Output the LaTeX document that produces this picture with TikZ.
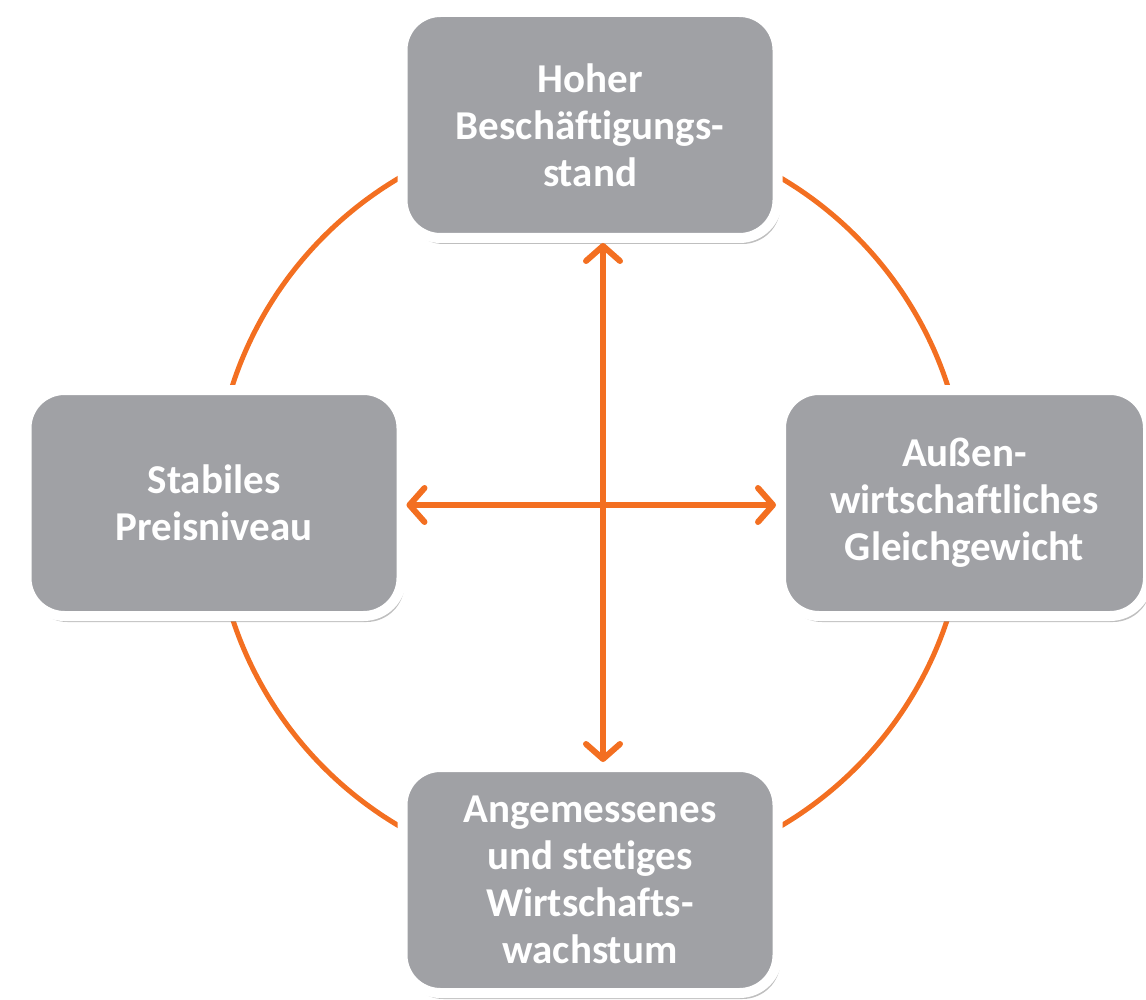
\documentclass[tikz,border=0pt]{standalone}
\usepackage{fontspec}
\setmainfont{Carlito}[Ligatures=NoCommon]
\usepackage{tikz}
\usetikzlibrary{arrows.meta,shadows}
\definecolor{zielgrau}{HTML}{A0A1A5}
\definecolor{zielorange}{HTML}{F36F21}
\tikzset{
  ziel/.style={rectangle, rounded corners=38pt, fill=zielgrau, draw=white, line width=10pt,
    minimum width=375pt, minimum height=226pt, align=center, text=white,
    font=\fontsize{41}{47}\selectfont\bfseries,
    drop shadow={shadow xshift=3pt, shadow yshift=-6pt, opacity=0.5}},
  bezug/.style={zielorange, line width=6pt,
    {Straight Barb[length=15pt,width=34pt,round]}-{Straight Barb[length=15pt,width=34pt,round]}}
}

\begin{document}
\begin{tikzpicture}[x=1pt,y=-1pt]
\useasboundingbox (0,0) rectangle (1146,1000);
% Ring
\draw[zielorange, line width=5pt] (590,502) circle[radius=376pt];
% Ziele
\node[ziel] (oben) at (590,125) {Hoher\\Beschäftigungs-\\stand};
\node[ziel] (links) at (214,503) {Stabiles\\Preisniveau};
\node[ziel, minimum width=367pt] (rechts) at (964.5,503) {Außen-\\wirtschaftliches\\Gleichgewicht};
\node[ziel] (unten) at (590,880) {Angemessenes\\und stetiges\\Wirtschafts-\\wachstum};
\coordinate (mitte) at (603,505);
% Beziehungen
\draw[bezug] (mitte |- oben.south) -- (mitte |- unten.north);
\draw[bezug] (links.east |- mitte) -- (rechts.west |- mitte);
\end{tikzpicture}
\end{document}
